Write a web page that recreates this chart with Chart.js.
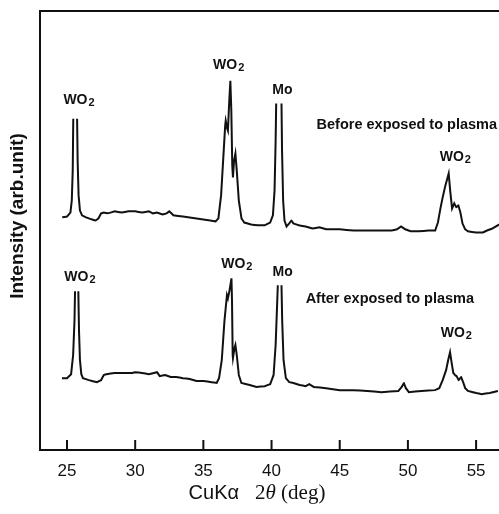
<!DOCTYPE html>
<html>
<head>
<meta charset="utf-8">
<script src="https://cdn.jsdelivr.net/npm/chart.js@4.4.0/dist/chart.umd.min.js"></script>
<style>
  html, body { margin: 0; padding: 0; background: #fff; }
  #wrap { width: 499px; height: 514px; }
</style>
</head>
<body>
<div id="wrap"><canvas id="xrd-chart"></canvas></div>
<script>
// CuK-alpha 2theta (deg) vs intensity (arb. units).
// null = pen went off scale at the top of the peak
const beforeTheta = [24.65, 25.0, 25.25, 25.35, 25.42, 25.46, 25.6, 25.74, 25.78, 25.85, 25.95, 26.1, 26.4, 26.8, 27.1, 27.3, 27.5, 27.7, 28.0, 28.5, 29.0, 29.5, 30.0, 30.5, 31.0, 31.3, 31.6, 32.0, 32.3, 32.5, 32.8, 33.5, 34.5, 35.5, 35.9, 36.1, 36.3, 36.45, 36.6, 36.64, 36.75, 36.8, 36.9, 36.98, 37.05, 37.12, 37.17, 37.25, 37.35, 37.45, 37.6, 37.8, 38.0, 38.5, 39.0, 39.5, 39.9, 40.1, 40.22, 40.3, 40.34, 40.5, 40.73, 40.77, 40.85, 40.95, 41.1, 41.3, 41.45, 41.6, 42.0, 42.5, 43.0, 43.5, 44.0, 45.0, 46.0, 47.0, 48.0, 48.8, 49.2, 49.5, 49.8, 50.2, 50.8, 51.5, 52.0, 52.2, 52.4, 52.55, 52.75, 52.99, 53.1, 53.24, 53.4, 53.55, 53.7, 53.85, 54.0, 54.2, 54.4, 55.0, 55.5, 55.8, 56.2, 56.7];
const beforeIntensity = [58.3, 58.5, 59.5, 62.5, 70, 83, null, 83, 72.5, 63.8, 60, 58.8, 58.3, 57.8, 57.5, 58, 59.3, 59.5, 59.3, 59.8, 59.5, 59.8, 59.8, 59.5, 59.8, 59.3, 59.5, 59, 59.3, 59.8, 58.8, 58.5, 58, 57.5, 57.3, 58, 63.8, 72.5, 81.3, 82.5, 80.5, 80, 87.5, 92.5, 85, 71.3, 68.3, 72.5, 74.3, 70, 62.5, 58, 57, 56.5, 56.3, 56.3, 57, 58.8, 65, 77.5, 86.8, null, 86.8, 75, 62.5, 57.5, 56, 56.8, 57.5, 56.8, 56.3, 56, 55.5, 55.8, 55.3, 55.3, 55, 55, 55, 55, 55.3, 56, 55.3, 54.8, 54.8, 55, 55, 57, 60.8, 63.3, 66.3, 69.3, 65, 60.5, 61.8, 60.8, 61.3, 59.5, 56.8, 55.3, 54.8, 54.5, 54.5, 55, 55.5, 56.5];

const afterTheta = [24.63, 25.0, 25.3, 25.45, 25.55, 25.59, 25.7, 25.83, 25.88, 25.95, 26.05, 26.17, 26.6, 27.2, 27.5, 27.7, 27.9, 28.5, 29.0, 29.8, 30.0, 30.5, 31.0, 31.6, 31.8, 32.2, 32.6, 33.0, 33.5, 34.0, 34.5, 35.0, 35.6, 35.98, 36.15, 36.35, 36.55, 36.73, 36.8, 36.92, 37.06, 37.1, 37.15, 37.17, 37.28, 37.35, 37.45, 37.6, 37.79, 38.4, 38.9, 39.5, 39.9, 40.15, 40.3, 40.42, 40.46, 40.6, 40.73, 40.78, 40.88, 41.05, 41.3, 41.6, 42.06, 42.5, 42.77, 43.1, 44.0, 45.0, 46.0, 47.0, 48.06, 49.3, 49.55, 49.7, 49.85, 50.07, 51.0, 51.99, 52.3, 52.55, 52.8, 52.95, 53.09, 53.2, 53.33, 53.45, 53.57, 53.72, 53.9, 54.05, 54.2, 54.4, 55.0, 55.4, 56.0, 56.6];
const afterIntensity = [18, 18, 19, 23.8, 32.5, 39.8, null, 39.8, 30, 22.5, 19, 18, 17.5, 17, 17.5, 18.8, 19, 19.3, 19.3, 19.3, 19.5, 19.3, 19, 19.5, 18.5, 18.8, 18.3, 18.3, 18, 17.8, 17.3, 17.3, 17, 16.8, 18, 22.5, 32.5, 38.8, 38, 40, 43, 37.5, 23.8, 23, 25.5, 26.3, 23.8, 18.8, 16.8, 16.3, 15.8, 16, 16.5, 18.8, 26.3, 37.5, 41.3, null, 41.3, 32.5, 22.5, 18, 17, 16.8, 16.3, 16, 16.5, 15.8, 15.5, 15, 15, 14.8, 14.5, 14.8, 15.8, 16.8, 15.5, 14.5, 14.8, 15, 15.5, 17.5, 20, 22.5, 24.5, 22, 19.3, 18.8, 18.5, 17.5, 18.3, 17, 15.5, 14.8, 14.3, 14, 14.3, 14.8];

const tickValues = [25, 30, 35, 40, 45, 50, 55];

// annotation texts and where they sit (2theta, intensity); '_' marks a subscript
const noteTexts = ['WO_2', 'WO_2', 'Mo', 'Before exposed to plasma', 'WO_2',
                   'WO_2', 'WO_2', 'Mo', 'After exposed to plasma', 'WO_2'];
const noteTheta = [25.88, 36.86, 40.8, 43.3, 53.48, 25.95, 37.45, 40.81, 42.5, 53.55];
const noteIntensity = [87.7, 96.5, 90.2, 81.5, 73.4, 43.4, 46.6, 44.6, 37.8, 29.3];

const toPoints = (xs, ys) => xs.map((x, i) => ({ x: x, y: ys[i] }));
const sans = '"Liberation Sans", Arial, sans-serif';
const serif = '"Liberation Serif", "Times New Roman", serif';

const decor = {
  id: 'decor',
  afterDraw(chart) {
    const ctx = chart.ctx, a = chart.chartArea;
    const sx = chart.scales.x, sy = chart.scales.y;
    ctx.save();
    ctx.strokeStyle = '#111';
    ctx.lineWidth = 2;
    ctx.beginPath();
    ctx.moveTo(a.right + 5, a.top);
    ctx.lineTo(a.left, a.top);
    ctx.lineTo(a.left, a.bottom);
    ctx.lineTo(a.right + 5, a.bottom);
    tickValues.forEach(v => {
      const px = sx.getPixelForValue(v);
      ctx.moveTo(px, a.bottom);
      ctx.lineTo(px, a.bottom - 10);
    });
    ctx.stroke();

    ctx.fillStyle = '#111';
    ctx.textBaseline = 'middle';
    noteTexts.forEach((t, i) => {
      const px = sx.getPixelForValue(noteTheta[i]);
      const py = sy.getPixelForValue(noteIntensity[i]);
      if (t.indexOf('_') >= 0) {
        const [main, sub] = t.split('_');
        ctx.font = 'bold 14px ' + sans;
        const w1 = ctx.measureText(main).width;
        ctx.font = 'bold 11px ' + sans;
        const w2 = ctx.measureText(sub).width;
        const x0 = px - (w1 + w2 + 1) / 2;
        ctx.textAlign = 'left';
        ctx.font = 'bold 14px ' + sans;
        ctx.fillText(main, x0, py);
        ctx.font = 'bold 11px ' + sans;
        ctx.fillText(sub, x0 + w1 + 1, py + 3);
      } else {
        const long = t.length > 4;
        ctx.font = 'bold ' + (long ? '14.5px ' : '14px ') + sans;
        ctx.textAlign = long ? 'left' : 'center';
        ctx.fillText(t, px, py);
      }
    });

    // y title
    ctx.save();
    ctx.translate(18, a.top + 205);
    ctx.rotate(-Math.PI / 2);
    ctx.textAlign = 'center';
    ctx.font = 'bold 19px ' + sans;
    ctx.fillText('Intensity (arb.unit)', 0, 0);
    ctx.restore();

    // x title, mixed fonts
    const parts = [
      ['CuK\u03b1', '20px ' + sans, 16],
      ['2', '21px ' + serif, 0],
      ['\u03b8', 'italic 21px ' + serif, 0],
      [' (deg)', '21px ' + serif, 0]
    ];
    let total = 0;
    parts.forEach(p => { ctx.font = p[1]; total += ctx.measureText(p[0]).width + p[2]; });
    let cx = 257 - total / 2;
    ctx.textAlign = 'left';
    parts.forEach(p => {
      ctx.font = p[1];
      ctx.fillText(p[0], cx, a.bottom + 43);
      cx += ctx.measureText(p[0]).width + p[2];
    });
    ctx.restore();
  }
};

const lineStyle = {
  borderColor: '#111',
  borderWidth: 2,
  pointRadius: 0,
  tension: 0.001,
  spanGaps: false,
  fill: false
};

new Chart(document.getElementById('xrd-chart'), {
  type: 'line',
  data: {
    datasets: [
      Object.assign({ label: 'Before exposed to plasma', data: toPoints(beforeTheta, beforeIntensity) }, lineStyle),
      Object.assign({ label: 'After exposed to plasma', data: toPoints(afterTheta, afterIntensity) }, lineStyle)
    ]
  },
  options: {
    responsive: true,
    maintainAspectRatio: false,
    animation: false,
    layout: { padding: { left: 40, top: 11, right: 0, bottom: 0 } },
    plugins: {
      legend: { display: false },
      tooltip: { enabled: false }
    },
    scales: {
      x: {
        type: 'linear',
        min: 23.02,
        max: 56.68,
        afterBuildTicks: s => { s.ticks = tickValues.map(v => ({ value: v })); },
        afterFit: s => { s.height = 64; },
        grid: { display: false },
        border: { display: false },
        ticks: {
          color: '#111',
          padding: 3,
          font: { family: sans, size: 17 }
        }
      },
      y: {
        display: false,
        min: 0,
        max: 110
      }
    }
  },
  plugins: [decor]
});
</script>
</body>
</html>
